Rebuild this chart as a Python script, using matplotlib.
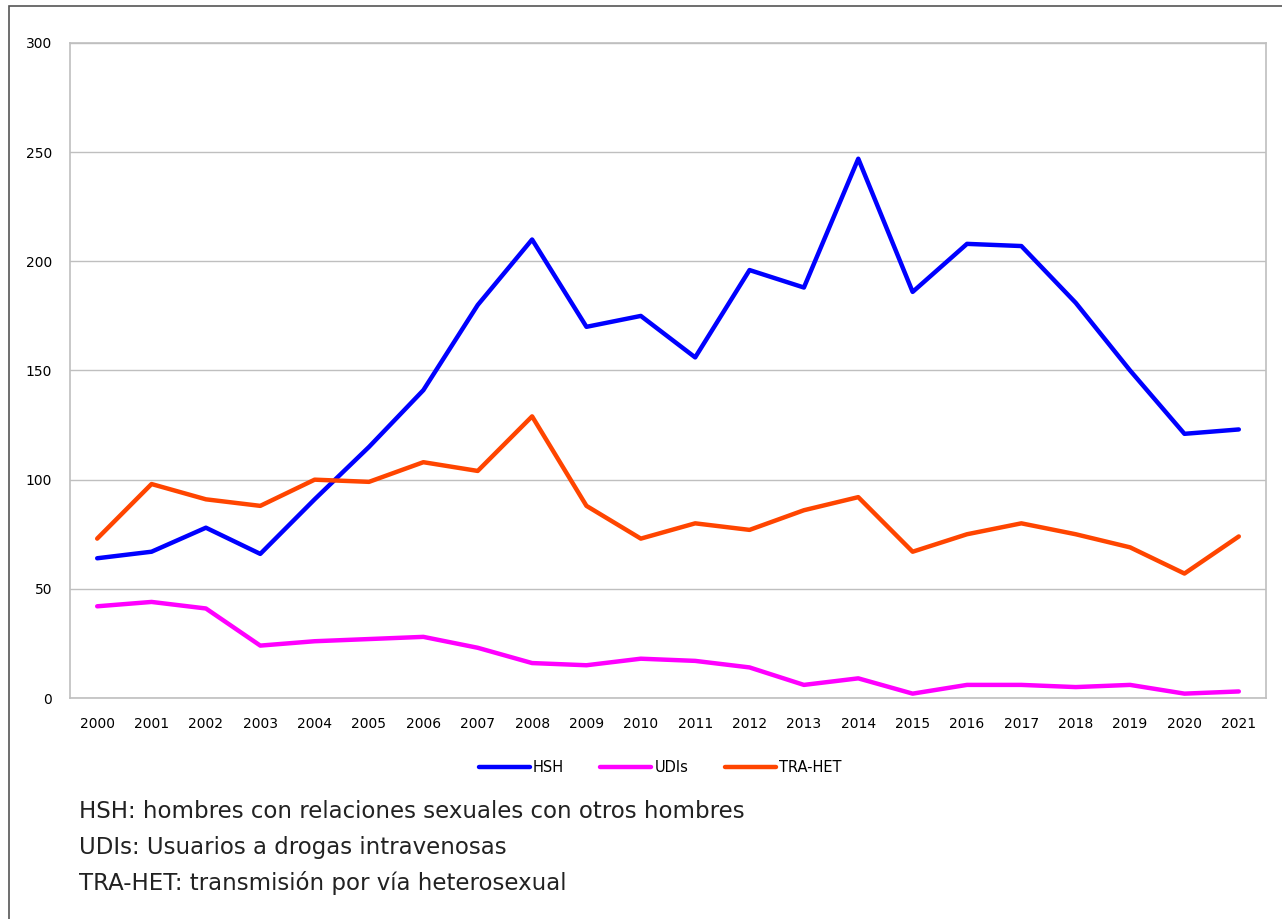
import numpy as np
import matplotlib.pyplot as plt
from matplotlib.patches import Rectangle

years = [str(y) for y in range(2000, 2022)]
hsh = [64, 67, 78, 66, 91, 115, 141, 180, 210, 170, 175, 156, 196, 188, 247, 186, 208, 207, 181, 150, 121, 123]
udis = [42, 44, 41, 24, 26, 27, 28, 23, 16, 15, 18, 17, 14, 6, 9, 2, 6, 6, 5, 6, 2, 3]
tra_het = [73, 98, 91, 88, 100, 99, 108, 104, 129, 88, 73, 80, 77, 86, 92, 67, 75, 80, 75, 69, 57, 74]

notes = ["HSH: hombres con relaciones sexuales con otros hombres",
         "UDIs: Usuarios a drogas intravenosas",
         "TRA-HET: transmisión por vía heterosexual"]

W, H = 1282, 919
fig = plt.figure(figsize=(W / 100, H / 100), dpi=100)

# outer border of the chart box
fig.patches.append(Rectangle((9 / W, -0.01), 1.1, (H - 6) / H + 0.01,
                             transform=fig.transFigure, fill=False,
                             edgecolor='#555555', linewidth=1.2))

ax = fig.add_axes([70 / W, 1 - 698 / H, (1266 - 70) / W, (698 - 43) / H])
x = np.arange(len(years))
ax.plot(x, hsh, color='#0000FF', lw=3.2, label='HSH', solid_capstyle='round')
ax.plot(x, udis, color='#FF00FF', lw=3.2, label='UDIs', solid_capstyle='round')
ax.plot(x, tra_het, color='#FF4500', lw=3.2, label='TRA-HET', solid_capstyle='round')

ax.set_xlim(-0.5, len(years) - 0.5)
ax.set_ylim(0, 300)
ax.set_yticks(range(0, 301, 50))
ax.set_xticks(x)
ax.set_xticklabels(years)
ax.grid(axis='y', color='#BFBFBF', lw=1)
ax.set_axisbelow(True)
for s in ax.spines.values():
    s.set_color('#BFBFBF')
    s.set_linewidth(1.2)
ax.tick_params(length=0, labelsize=10, colors='black', pad=14)
ax.tick_params(axis='y', pad=13)

fig.legend(loc='center', bbox_to_anchor=(660 / W, 1 - 768 / H), ncol=3,
           frameon=False, fontsize=10.5, handlelength=3.5, handletextpad=0.2,
           columnspacing=2.5)

for i, t in enumerate(notes):
    fig.text(79 / W, 1 - (812 + 35.5 * i) / H, t, fontsize=16.5,
             va='center', ha='left', color='#222222')

fig.savefig('out.png', dpi=100)
